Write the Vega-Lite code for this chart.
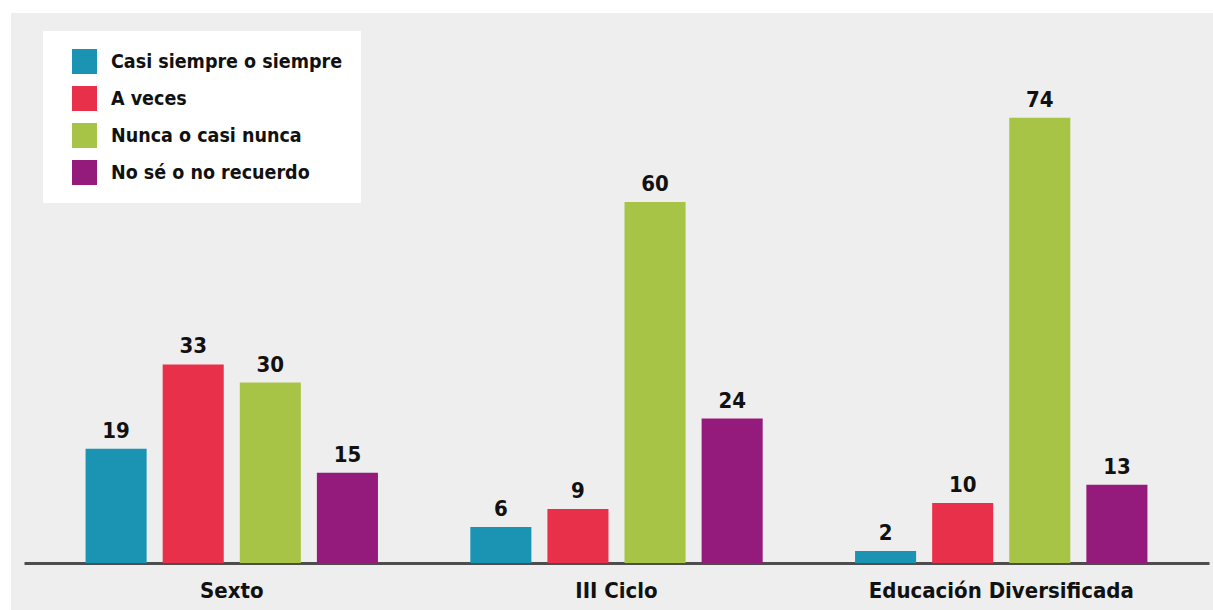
{
  "$schema": "https://vega.github.io/schema/vega-lite/v6.json",
  "width": 1202,
  "height": 597,
  "autosize": {"type": "none"},
  "padding": {"left": 11, "top": 13, "right": 0, "bottom": 0},
  "background": "#ffffff",
  "config": {
    "view": {"fill": "#eeeeee", "stroke": null},
    "font": "DejaVu Sans Condensed, Liberation Sans Narrow, Arial Narrow, sans-serif"
  },
  "data": {
    "values": [
      {"group": "Sexto", "cat": "Casi siempre o siempre", "value": 19},
      {"group": "Sexto", "cat": "A veces", "value": 33},
      {"group": "Sexto", "cat": "Nunca o casi nunca", "value": 30},
      {"group": "Sexto", "cat": "No sé o no recuerdo", "value": 15},
      {"group": "III Ciclo", "cat": "Casi siempre o siempre", "value": 6},
      {"group": "III Ciclo", "cat": "A veces", "value": 9},
      {"group": "III Ciclo", "cat": "Nunca o casi nunca", "value": 60},
      {"group": "III Ciclo", "cat": "No sé o no recuerdo", "value": 24},
      {"group": "Educación Diversificada", "cat": "Casi siempre o siempre", "value": 2},
      {"group": "Educación Diversificada", "cat": "A veces", "value": 10},
      {"group": "Educación Diversificada", "cat": "Nunca o casi nunca", "value": 74},
      {"group": "Educación Diversificada", "cat": "No sé o no recuerdo", "value": 13}
    ]
  },
  "encoding": {
    "x": {
      "field": "group",
      "type": "nominal",
      "sort": ["Sexto", "III Ciclo", "Educación Diversificada"],
      "scale": {"range": [13, 1198], "paddingInner": 0.2, "paddingOuter": 0.14},
      "axis": {
        "title": null,
        "orient": "bottom",
        "offset": -47,
        "labelAngle": 0,
        "ticks": false,
        "domain": true,
        "domainColor": "#4d4d4d",
        "domainWidth": 3,
        "labelFontSize": 22,
        "labelFontWeight": "bold",
        "labelColor": "#111111",
        "labelPadding": 17,
        "labelLimit": 0
      }
    },
    "xOffset": {
      "field": "cat",
      "type": "nominal",
      "sort": ["Casi siempre o siempre", "A veces", "Nunca o casi nunca", "No sé o no recuerdo"],
      "scale": {"paddingInner": 0.208, "paddingOuter": 0.1}
    },
    "y": {
      "field": "value",
      "type": "quantitative",
      "scale": {"domain": [-7.8, 91.4], "nice": false, "zero": false},
      "axis": null
    }
  },
  "layer": [
    {
      "mark": {"type": "bar"},
      "encoding": {
        "y2": {"datum": 0},
        "color": {
          "field": "cat",
          "type": "nominal",
          "sort": ["Casi siempre o siempre", "A veces", "Nunca o casi nunca", "No sé o no recuerdo"],
          "scale": {
            "domain": ["Casi siempre o siempre", "A veces", "Nunca o casi nunca", "No sé o no recuerdo"],
            "range": ["#1b94b4", "#e8304a", "#a8c447", "#941a7c"]
          },
          "legend": {
            "title": null,
            "orient": "none",
            "legendX": 32,
            "legendY": 18,
            "fillColor": "#ffffff",
            "padding": 18,
            "symbolOffset": 11,
            "symbolType": "square",
            "symbolSize": 625,
            "symbolStrokeWidth": 0,
            "labelFontSize": 19.5,
            "labelFontWeight": "bold",
            "labelColor": "#111111",
            "labelOffset": 14,
            "rowPadding": 12,
            "labelLimit": 0
          }
        }
      }
    },
    {
      "mark": {"type": "text", "dy": -11, "baseline": "alphabetic", "fontSize": 22, "fontWeight": "bold", "color": "#111111"},
      "encoding": {"text": {"field": "value", "type": "quantitative"}}
    }
  ]
}
